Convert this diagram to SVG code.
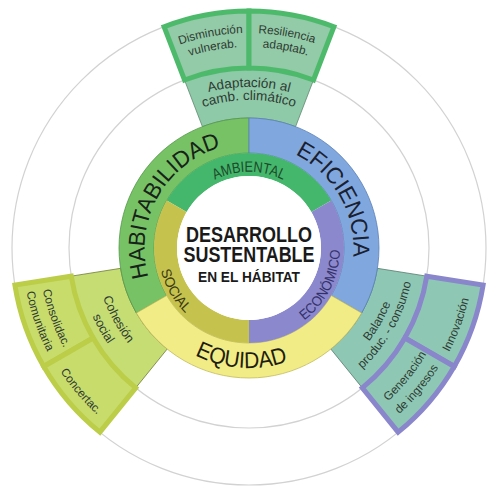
<svg xmlns="http://www.w3.org/2000/svg" xmlns:xlink="http://www.w3.org/1999/xlink" width="497" height="491" viewBox="0 0 497 491">
<style>
.guide{fill:none;stroke:#d2d2d2;stroke-width:1.2}
.ring{font-family:"Liberation Sans",Arial,sans-serif;font-size:23px}
.inner{font-family:"Liberation Sans",Arial,sans-serif;font-size:14px}
.lbl{font-family:"Liberation Sans",Arial,sans-serif;font-size:12.5px;fill:#2f3a33}
.sm{font-family:"Liberation Sans",Arial,sans-serif;font-size:11.8px;fill:#2f3a33}
.ctr{font-family:"Liberation Sans",Arial,sans-serif;font-weight:bold;fill:#1a1a1a;text-anchor:middle}
.mid{text-anchor:middle}
</style>
<defs>
<path id="p-hab" d="M 196.5 338.93 A 105 105 0 0 1 301.5 157.07"/>
<path id="p-ef" d="M 196.5 157.07 A 105 105 0 0 1 301.5 338.93"/>
<path id="p-eq" d="M 129 248 A 120 120 0 0 0 369 248"/>
<path id="p-amb" d="M 172.7 248 A 76.3 76.3 0 0 1 325.3 248"/>
<path id="p-soc" d="M 203.5 169.19 A 91 91 0 0 0 294.5 326.81"/>
<path id="p-eco" d="M 203.5 326.81 A 91 91 0 0 0 294.5 169.19"/>
<path id="t161" d="M 88 248 A 161 161 0 0 1 410 248"/>
<path id="t148" d="M 101 248 A 148 148 0 0 1 397 248"/>
<path id="t215" d="M 34 248 A 215 215 0 0 1 464 248"/>
<path id="t201" d="M 48 248 A 201 201 0 0 1 450 248"/>
<path id="l155" d="M 171.5 113.77 A 155 155 0 0 0 326.5 382.23"/>
<path id="l171" d="M 163.5 99.91 A 171 171 0 0 0 334.5 396.09"/>
<path id="l211" d="M 143.5 65.27 A 211 211 0 0 0 354.5 430.73"/>
<path id="l228" d="M 135 50.55 A 228 228 0 0 0 363 445.45"/>
<path id="l225" d="M 136.25 52.71 A 225.5 225.5 0 0 0 361.75 443.29"/>
<path id="r152" d="M 173 379.64 A 152 152 0 0 0 325 116.36"/>
<path id="r166" d="M 166 391.76 A 166 166 0 0 0 332 104.24"/>
<path id="r208" d="M 145 428.13 A 208 208 0 0 0 353 67.87"/>
<path id="r224" d="M 137 441.99 A 224 224 0 0 0 361 54.01"/>
<path id="r225" d="M 136.25 443.29 A 225.5 225.5 0 0 0 361.75 52.71"/>
</defs>
<rect width="497" height="491" fill="#ffffff"/>
<g id="guide-circles">
<circle class="guide" cx="249" cy="248" r="180"/>
<circle class="guide" cx="249" cy="248" r="237"/>
</g>
<g id="adaptacion">
<path d="M 202.41 126.63 L 184.49 79.96 A 180 180 0 0 1 313.51 79.96 L 295.59 126.63 A 130 130 0 0 0 202.41 126.63 Z" fill="#8ec9a8" stroke="#5f8a70" stroke-width="0.8"/>
<text class="lbl" style="font-size:13.5px"><textPath href="#t161" xlink:href="#t161" startOffset="50%" class="mid">Adaptación al</textPath></text>
<text class="lbl" style="font-size:13.5px"><textPath href="#t148" xlink:href="#t148" startOffset="50%" class="mid">camb. climático</textPath></text>
</g>
<g id="disminucion">
<path d="M 184.49 79.96 L 164.07 26.74 A 237 237 0 0 1 249 11 L 249 68 A 180 180 0 0 0 184.49 79.96 Z" fill="#93caa7" stroke="#4dba6b" stroke-width="5" stroke-linejoin="miter"/>
<text class="sm"><textPath href="#t215" xlink:href="#t215" startOffset="44.3%" class="mid">Disminución</textPath></text>
<text class="sm"><textPath href="#t201" xlink:href="#t201" startOffset="44.3%" class="mid">vulnerab.</textPath></text>
</g>
<g id="resiliencia">
<path d="M 249 68 L 249 11 A 237 237 0 0 1 333.93 26.74 L 313.51 79.96 A 180 180 0 0 0 249 68 Z" fill="#93caa7" stroke="#4dba6b" stroke-width="5"/>
<text class="sm"><textPath href="#t215" xlink:href="#t215" startOffset="55.6%" class="mid">Resiliencia</textPath></text>
<text class="sm"><textPath href="#t201" xlink:href="#t201" startOffset="55.8%" class="mid">adaptab.</textPath></text>
</g>
<g id="cohesion">
<path d="M 167.19 349.03 L 135.72 387.89 A 180 180 0 0 1 71.22 276.16 L 120.6 268.34 A 130 130 0 0 0 167.19 349.03 Z" fill="#c5dd72" stroke="#6f7c3a" stroke-width="0.8"/>
<text class="lbl"><textPath href="#l155" xlink:href="#l155" startOffset="49.2%" class="mid">Cohesión</textPath></text>
<text class="lbl"><textPath href="#l171" xlink:href="#l171" startOffset="49.4%" class="mid">social</textPath></text>
</g>
<g id="consolidac">
<path d="M 93.12 338 L 43.75 366.5 A 237 237 0 0 1 14.92 285.07 L 71.22 276.16 A 180 180 0 0 0 93.12 338 Z" fill="#c8dc6c" stroke="#bccd48" stroke-width="5"/>
<text class="sm"><textPath href="#l211" xlink:href="#l211" startOffset="44.4%" class="mid">Consolidac.</textPath></text>
<text class="sm"><textPath href="#l228" xlink:href="#l228" startOffset="44%" class="mid">Comunitaria</textPath></text>
</g>
<g id="concertac">
<path d="M 135.72 387.89 L 99.85 432.18 A 237 237 0 0 1 43.75 366.5 L 93.12 338 A 180 180 0 0 0 135.72 387.89 Z" fill="#c8dc6c" stroke="#bccd48" stroke-width="5"/>
<text class="sm"><textPath href="#l225" xlink:href="#l225" startOffset="55.8%" class="mid">Concertac.</textPath></text>
</g>
<g id="balance">
<path d="M 377.4 268.34 L 426.78 276.16 A 180 180 0 0 1 362.28 387.89 L 330.81 349.03 A 130 130 0 0 0 377.4 268.34 Z" fill="#8ec8b5" stroke="#587a70" stroke-width="0.8"/>
<text class="lbl" style="font-size:12.2px"><textPath href="#r152" xlink:href="#r152" startOffset="50.2%" class="mid">Balance</textPath></text>
<text class="lbl" style="font-size:12.2px"><textPath href="#r166" xlink:href="#r166" startOffset="50.3%" class="mid">produc. - consumo</textPath></text>
</g>
<g id="innovacion">
<path d="M 426.78 276.16 L 483.08 285.07 A 237 237 0 0 1 454.25 366.5 L 404.88 338 A 180 180 0 0 0 426.78 276.16 Z" fill="#8ec8b4" stroke="#8986cc" stroke-width="5"/>
<text class="sm"><textPath href="#r225" xlink:href="#r225" startOffset="55.4%" class="mid">Innovación</textPath></text>
</g>
<g id="generacion">
<path d="M 404.88 338 L 454.25 366.5 A 237 237 0 0 1 398.15 432.18 L 362.28 387.89 A 180 180 0 0 0 404.88 338 Z" fill="#8ec8b4" stroke="#8986cc" stroke-width="5"/>
<text class="sm"><textPath href="#r208" xlink:href="#r208" startOffset="44.8%" class="mid">Generación</textPath></text>
<text class="sm"><textPath href="#r224" xlink:href="#r224" startOffset="44.4%" class="mid">de ingresos</textPath></text>
</g>
<g id="habitabilidad">
<path d="M 136.42 313 A 130 130 0 0 1 249 118 L 249 153 A 95 95 0 0 0 166.73 295.5 Z" fill="#77c265" stroke="#55984c" stroke-width="0.8"/>
<text class="ring" fill="#17231a"><textPath href="#p-hab" xlink:href="#p-hab" startOffset="49.5%" class="mid" textLength="165" lengthAdjust="spacingAndGlyphs">HABITABILIDAD</textPath></text>
</g>
<g id="eficiencia">
<path d="M 249 118 A 130 130 0 0 1 361.58 313 L 331.27 295.5 A 95 95 0 0 0 249 153 Z" fill="#80a8de" stroke="#5b80b8" stroke-width="0.8"/>
<text class="ring" fill="#1a2030"><textPath href="#p-ef" xlink:href="#p-ef" startOffset="50.3%" class="mid" textLength="125" lengthAdjust="spacingAndGlyphs">EFICIENCIA</textPath></text>
</g>
<g id="equidad">
<path d="M 361.58 313 A 130 130 0 0 1 136.42 313 L 166.73 295.5 A 95 95 0 0 0 331.27 295.5 Z" fill="#f2ec86" stroke="#c2bb5c" stroke-width="0.8"/>
<text class="ring" fill="#1e1e10"><textPath href="#p-eq" xlink:href="#p-eq" startOffset="47.8%" class="mid" textLength="96" lengthAdjust="spacingAndGlyphs">EQUIDAD</textPath></text>
</g>
<g id="ambiental">
<path d="M 166.73 200.5 A 95 95 0 0 1 331.27 200.5 L 311.35 212 A 72 72 0 0 0 186.65 212 Z" fill="#44b76c"/>
<text class="inner" style="font-size:15px" fill="#1d4a2a"><textPath href="#p-amb" xlink:href="#p-amb" startOffset="50%" class="mid" textLength="71" lengthAdjust="spacingAndGlyphs">AMBIENTAL</textPath></text>
</g>
<g id="economico">
<path d="M 331.27 200.5 A 95 95 0 0 1 249 343 L 249 320 A 72 72 0 0 0 311.35 212 Z" fill="#8b88cd"/>
<text class="inner" fill="#33316a"><textPath href="#p-eco" xlink:href="#p-eco" startOffset="51.7%" class="mid" textLength="82" lengthAdjust="spacingAndGlyphs">ECONÓMICO</textPath></text>
</g>
<g id="social">
<path d="M 249 343 A 95 95 0 0 1 166.73 200.5 L 186.65 212 A 72 72 0 0 0 249 320 Z" fill="#c5c24e"/>
<text class="inner" fill="#3c3a12"><textPath href="#p-soc" xlink:href="#p-soc" startOffset="50%" class="mid" textLength="50" lengthAdjust="spacingAndGlyphs">SOCIAL</textPath></text>
</g>
<g id="centro">
<circle cx="249" cy="248" r="72" fill="#ffffff"/>
<text class="ctr" x="249" y="241.5" font-size="22" textLength="126" lengthAdjust="spacingAndGlyphs">DESARROLLO</text>
<text class="ctr" x="249" y="262" font-size="22" textLength="131" lengthAdjust="spacingAndGlyphs">SUSTENTABLE</text>
<text class="ctr" x="249" y="282" font-size="14" textLength="102" lengthAdjust="spacingAndGlyphs">EN EL HÁBITAT</text>
</g>
</svg>
